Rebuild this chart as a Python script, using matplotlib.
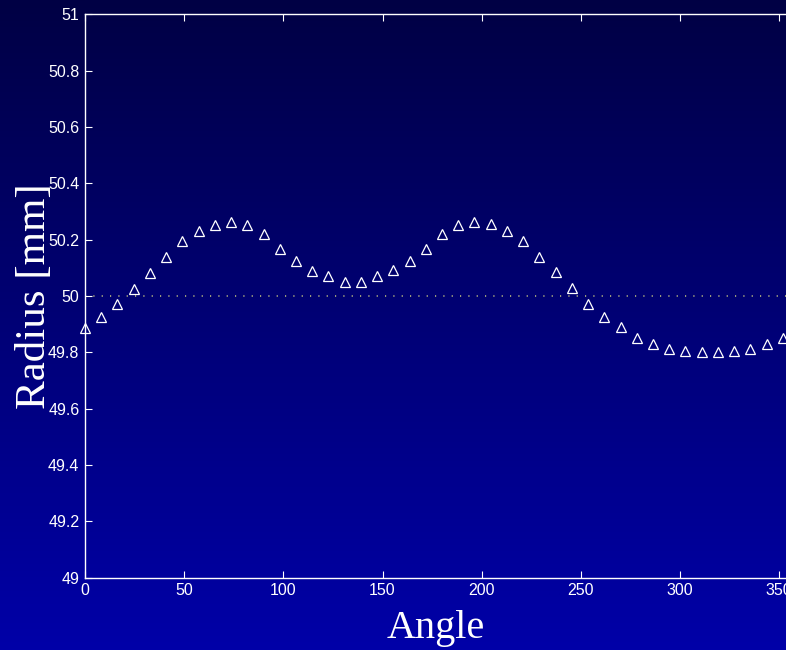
import numpy as np
import matplotlib
matplotlib.use("Agg")
import matplotlib.pyplot as plt
from matplotlib.ticker import FuncFormatter

# ---- data ----
angles = [0.0, 8.18, 16.36, 24.55, 32.73, 40.91, 49.09, 57.27, 65.45, 73.64,
          81.82, 90.0, 98.18, 106.36, 114.55, 122.73, 130.91, 139.09, 147.27, 155.45,
          163.64, 171.82, 180.0, 188.18, 196.36, 204.55, 212.73, 220.91, 229.09, 237.27,
          245.45, 253.64, 261.82, 270.0, 278.18, 286.36, 294.55, 302.73, 310.91, 319.09,
          327.27, 335.45, 343.64, 351.82]
radius = [49.886, 49.924, 49.970, 50.025, 50.082, 50.138, 50.194, 50.230, 50.253, 50.262,
          50.251, 50.220, 50.167, 50.123, 50.090, 50.071, 50.050, 50.049, 50.071, 50.091,
          50.124, 50.167, 50.220, 50.251, 50.263, 50.254, 50.231, 50.195, 50.140, 50.084,
          50.027, 49.972, 49.925, 49.889, 49.851, 49.828, 49.813, 49.804, 49.800, 49.800,
          49.805, 49.813, 49.828, 49.851]
nominal = 50.0
xticks = [0, 50, 100, 150, 200, 250, 300, 350]
yticks = [49, 49.2, 49.4, 49.6, 49.8, 50, 50.2, 50.4, 50.6, 50.8, 51]
xlabel = "Angle"
ylabel = "Radius [mm]"

W, H = 786, 650
fig = plt.figure(figsize=(W / 100, H / 100), dpi=100)

# gradient background
bg = fig.add_axes([0, 0, 1, 1], zorder=0)
grad = np.linspace(0, 1, 256).reshape(-1, 1)
top = np.array([0, 0, 68]) / 255.0
bot = np.array([0, 0, 168]) / 255.0
img = top[None, None, :] * (1 - grad[:, :, None]) + bot[None, None, :] * grad[:, :, None]
bg.imshow(img, aspect="auto", extent=[0, 1, 0, 1], origin="upper")
bg.set_axis_off()

left = 85 / W
right = 799 / W
bottom = (H - 577.7) / H
topp = (H - 14.3) / H
ax = fig.add_axes([left, bottom, right - left, topp - bottom], zorder=1)
ax.patch.set_alpha(0)

ax.axhline(nominal, color=(0.72, 0.72, 0.5), lw=1.2, linestyle=(0, (0.7, 4.3)), zorder=1)
ax.plot(angles, radius, linestyle="none", marker="^", ms=7.5, mfc="none",
        mec="white", mew=0.9, zorder=3, clip_on=False)

ax.set_xlim(0, 360)
ax.set_ylim(49, 51)
ax.set_xticks(xticks)
ax.set_yticks(yticks)
ax.yaxis.set_major_formatter(FuncFormatter(lambda v, p: f"{v:g}"))
ax.xaxis.set_major_formatter(FuncFormatter(lambda v, p: f"{v:g}"))

for s in ax.spines.values():
    s.set_color("white")
    s.set_linewidth(1.0)
ax.tick_params(direction="in", length=5, width=0.8, colors="white",
               top=True, right=True, labelsize=11.5, pad=4)
for lab in ax.get_xticklabels() + ax.get_yticklabels():
    lab.set_fontfamily("Liberation Sans")
    lab.set_color("white")

fig.text(436 / W, 1 - 638 / H, xlabel, color="white", fontsize=29,
         family="Liberation Serif", ha="center", va="baseline")
fig.text(35 / W, 1 - 296 / H, ylabel, color="white", fontsize=31,
         family="Liberation Serif", ha="center", va="center", rotation=90)

fig.savefig("out.png", dpi=100)
